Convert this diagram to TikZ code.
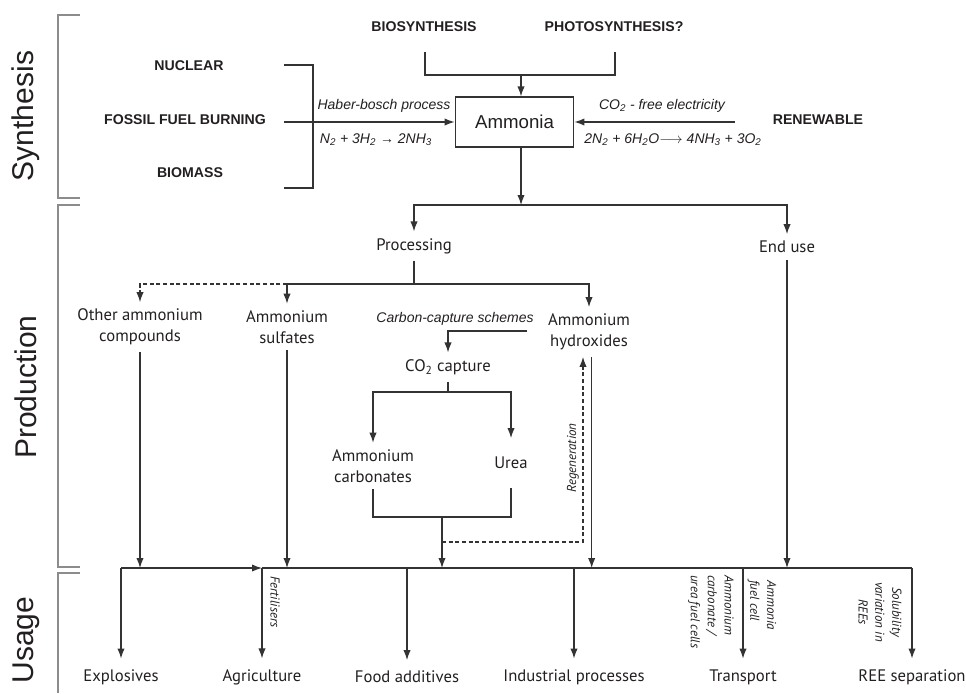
\documentclass[tikz,border=0pt]{standalone}
\usepackage{fontspec}
\setmainfont{Liberation Sans}
\newfontfamily\myriad{PT Sans}
\usetikzlibrary{arrows.meta}
\definecolor{ink}{HTML}{231F20}
\definecolor{rule}{HTML}{333333}
\definecolor{brace}{HTML}{8C8C8C}
\tikzset{
  arr/.style={-{Latex[length=7.5pt,width=5.5pt]}},
  conn/.style={draw=rule, line width=0.9pt},
  src/.style={font=\bfseries\fontsize{10.6}{12}\selectfont, text=ink},
  lbl/.style={font=\myriad\fontsize{12.5}{15.5}\selectfont, text=ink, align=center, inner xsep=3pt, inner ysep=5pt},
  usebox/.style={lbl, inner ysep=8pt},
  note/.style={font=\itshape\fontsize{10.5}{12}\selectfont, text=ink},
  side/.style={font=\myriad\itshape\fontsize{9.7}{12.7}\selectfont, text=ink, inner sep=0pt},
  sect/.style={font=\fontsize{22.5}{26}\selectfont, text=ink, rotate=90},
  brk/.style={draw=brace, line width=1.5pt},
}
\begin{document}
\begin{tikzpicture}[x=0.75pt, y=-0.75pt]
\useasboundingbox (0,0) rectangle (966,693);

% section brackets
\draw[brk] (80,15) -- (58,15) -- (58,198) -- (80,198);
\draw[brk] (80,205) -- (58,205) -- (58,567) -- (80,567);
\draw[brk] (80,573) -- (58,573) -- (58,693);
\node[sect] (synth) at (26,116) {Synthesis};
\node[sect] (prod) at (26,387) {Production};
\node[sect] (usage) at (26,640) {Usage};

% synthesis
\node[src] (bio) at (424,27) {BIOSYNTHESIS};
\node[src] (photo) at (614,27) {PHOTOSYNTHESIS?};
\node[src] (nuc) at (189,66) {NUCLEAR};
\node[src] (fossil) at (185,120) {FOSSIL FUEL BURNING};
\node[src] (biom) at (190,173) {BIOMASS};
\node[src] (renew) at (818,120) {RENEWABLE};
\node[conn, minimum width=89pt, minimum height=37.5pt, font=\fontsize{14}{16}\selectfont, text=ink] (amm) at (514.5,122) {Ammonia};

\coordinate (bioend) at (425,52);
\coordinate (photoend) at (615,52);
\coordinate (topj) at (521,75);
\draw[conn] (bioend) |- (topj) -| (photoend);
\draw[conn, arr] (topj) -- (topj |- amm.north);

\coordinate (nucend) at (284,65);
\coordinate (biomend) at (284,188);
\coordinate (fosend) at (284,122);
\draw[conn] (nucend) -- ++(29,0) |- (biomend);
\draw[conn, arr] (fosend) -- (amm.west);
\node[note] (haber) at (384,106) {Haber-bosch process};
\node[note] (hbeq) at (376,140) {N\textsubscript{2} + 3H\textsubscript{2} → 2NH\textsubscript{3}};

\coordinate (renend) at (735,122);
\draw[conn, arr] (renend) -- (amm.east);
\node[note] (elec) at (662,106) {CO\textsubscript{2} - free electricity};
\node[note] (eleq) at (673,140) {2N\textsubscript{2} + 6H\textsubscript{2}O$\longrightarrow$ 4NH\textsubscript{3} + 3O\textsubscript{2}};

% production
\coordinate (split) at (521,205);
\draw[conn, arr] (amm.south -| split) -- (split);
\node[lbl] (proc) at (414,246) {Processing};
\node[lbl] (enduse) at (787,247) {End use};
\draw[conn, arr] (split) -| (proc.north);
\draw[conn, arr] (split) -| (enduse.north);

\coordinate (pj) at (414,284);
\draw[conn] (proc.south) -- (pj);
\node[lbl] (other) at (140,327) {Other ammonium\\compounds};
\node[lbl] (sulf) at (287,327) {Ammonium\\sulfates};
\node[lbl] (hydr) at (589,332) {Ammonium\\hydroxides};
\draw[conn, arr] (pj) -| (hydr.north);
\draw[conn, arr] (pj) -| (sulf.north);
\draw[conn, arr, dash pattern=on 3pt off 2pt] (sulf.north |- pj) -| (other.north);

\node[note] (ccs) at (455,319) {Carbon-capture schemes};
\coordinate (ccsend) at (527,331);
\node[lbl] (co2) at (448,367) {CO\textsubscript{2} capture};
\draw[conn, arr] (ccsend) -| (co2.north);

\coordinate (cj) at (448,392);
\draw[conn] (co2.south) -- (cj);
\node[lbl] (carb) at (373,466) {Ammonium\\carbonates};
\node[lbl, minimum height=37pt] (urea) at (511,463) {Urea};
\draw[conn, arr] (cj) -| (carb.north);
\draw[conn, arr] (cj) -| (urea.north);

\coordinate (mj) at (442,517);
\coordinate (bus) at (121,568);
\coordinate (busr) at (912,568);
\coordinate (rg) at (583,542);
\draw[conn] (carb.south) |- (mj) -| (urea.south);
\draw[conn, arr] (mj) -- (mj |- bus);
\draw[conn, arr, dash pattern=on 3pt off 2pt] (mj |- rg) -- (rg) -- (rg |- hydr.south);
\node[side, rotate=90] (regen) at (573,458) {Regeneration};
\draw[conn, arr] ([xshift=2pt]hydr.south) -- ([xshift=2pt]hydr.south |- bus);

\draw[conn, arr] (other.south) -- (other.south |- bus);
\draw[conn, arr] (sulf.south) -- (sulf.south |- bus);
\draw[conn, arr] (enduse.south) -- (enduse.south |- bus);

% usage
\foreach \name/\x/\txt in {expl/121/Explosives, agri/262/Agriculture, food/407/Food additives,
  indu/574/Industrial processes, trans/743/Transport, ree/912/REE separation}
  \node[usebox] (\name) at (\x,677) {\txt};

\draw[conn, arr] (bus) -- (agri.north |- bus);
\draw[conn] (agri.north |- bus) -- (busr);
\draw[conn, arr] (bus) -- (expl.north);
\foreach \name in {agri, food, indu, trans}
  \draw[conn, arr] (\name.north |- bus) -- (\name.north);
\draw[conn, arr] (busr) -- (ree.north);

\node[side, rotate=-90, anchor=west] (fert) at (275,576) {Fertilisers};
\node[side, rotate=-90, anchor=west, align=left] (acfc) at (711,575) {Ammonium\\carbonate /\\urea fuel cells};
\node[side, rotate=-90, anchor=west, align=left] (afc) at (762,580) {Ammonia\\fuel cell};
\node[side, rotate=-90, align=center] (sol) at (880,612) {Solubility\\variation in\\REEs};
\end{tikzpicture}
\end{document}
